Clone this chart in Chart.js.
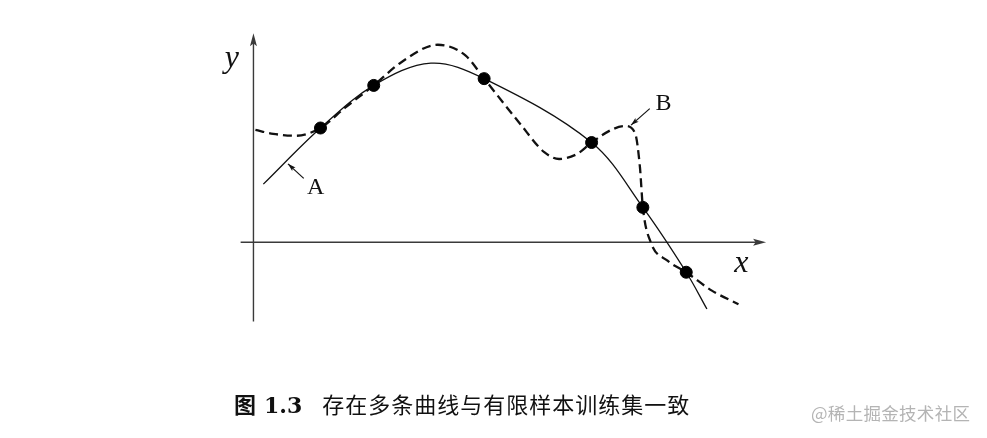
<!DOCTYPE html>
<html>
<head>
<meta charset="utf-8">
<script src="https://cdn.jsdelivr.net/npm/chart.js@4/dist/chart.umd.min.js"></script>
<style>
  html, body { margin: 0; padding: 0; background: #fff; }
  #wrap { position: relative; width: 987px; height: 438px; overflow: hidden; }
  #c { position: absolute; left: 0; top: 0; }
  #caption { position: absolute; left: 234px; top: 387px; font-size: 22px; color: #111; white-space: nowrap; font-family: "Noto Sans CJK SC", serif; }
  #caption .fig { font-weight: bold; }
  #caption .num { font-family: "DejaVu Serif", serif; font-weight: bold; margin-left: 8px; margin-right: 20px; }
  #caption .txt { letter-spacing: 1px; }
  #wm { position: absolute; left: 811px; top: 400px; font-size: 17.5px; letter-spacing: 0.3px; color: #b4b4b4; font-family: "Noto Sans CJK SC", sans-serif; white-space: nowrap; }
</style>
</head>
<body>
<div id="wrap">
  <canvas id="c" width="987" height="438"></canvas>
  <div id="caption"><span class="fig">图</span><span class="num">1.3</span><span class="txt">存在多条曲线与有限样本训练集一致</span></div>
  <div id="wm">@稀土掘金技术社区</div>
</div>
<script>
// ---- data ----
const sampleX = [6.8, 12.2, 23.4, 34.3, 39.5, 43.9];
const sampleY = [11.8, 16.2, 16.9, 10.3, 3.6, -3.1];

const curveAx = [1.0, 6.8, 12.2, 18.0, 23.4, 34.3, 39.5, 43.9, 46.0];
const curveAy = [6.0, 11.8, 16.2, 18.5, 16.9, 10.3, 3.6, -3.1, -6.9];

const curveBx = [0.2, 2.0, 4.3, 6.8, 9.3, 12.2, 15.0, 18.7, 21.5, 23.4, 27.0, 29.5, 31.0, 32.8, 34.3, 36.5, 37.7, 38.7, 39.2, 39.5, 40.3, 42.0, 43.9, 46.5, 49.2];
const curveBy = [11.6, 11.2, 11.0, 11.8, 13.9, 16.2, 18.6, 20.4, 19.3, 16.9, 12.3, 9.3, 8.6, 9.1, 10.3, 11.7, 12.0, 11.3, 7.8, 3.6, 0.0, -1.9, -3.1, -5.0, -6.4];

// axes extent
const xAxisRange = [-1.3, 52.0];
const yAxisRange = [-8.2, 21.6];

// labels
const axisLabels = [{t: 'y', x: -2.2, y: 19.0}, {t: 'x', x: 49.5, y: -2.2}];
const curveLabels = [
  {t: 'A', x: 6.3, y: 5.6, tail: [5.1, 6.6], head: [3.5, 8.1]},
  {t: 'B', x: 41.6, y: 14.3, tail: [40.2, 13.8], head: [38.3, 12.1]}
];

const toPts = (xs, ys) => xs.map((x, i) => ({x, y: ys[i]}));

function arrowHead(ctx, x1, y1, x2, y2, len, wid) {
  const a = Math.atan2(y2 - y1, x2 - x1);
  ctx.beginPath();
  ctx.moveTo(x2, y2);
  ctx.lineTo(x2 - len * Math.cos(a) + wid * Math.sin(a), y2 - len * Math.sin(a) - wid * Math.cos(a));
  ctx.lineTo(x2 - len * Math.cos(a) * 0.8, y2 - len * Math.sin(a) * 0.8);
  ctx.lineTo(x2 - len * Math.cos(a) - wid * Math.sin(a), y2 - len * Math.sin(a) + wid * Math.cos(a));
  ctx.closePath();
  ctx.fill();
}

const decor = {
  id: 'decor',
  beforeDatasetsDraw(chart) {
    const {ctx, scales: {x, y}} = chart;
    ctx.save();
    ctx.strokeStyle = '#3a3a3a';
    ctx.fillStyle = '#3a3a3a';
    ctx.lineWidth = 1.4;
    const y0 = y.getPixelForValue(0), x0 = x.getPixelForValue(0);
    const xa = x.getPixelForValue(xAxisRange[0]), xb = x.getPixelForValue(xAxisRange[1]);
    const ya = y.getPixelForValue(yAxisRange[0]), yb = y.getPixelForValue(yAxisRange[1]);
    ctx.beginPath(); ctx.moveTo(xa, y0); ctx.lineTo(xb - 6, y0); ctx.stroke();
    ctx.beginPath(); ctx.moveTo(x0, ya); ctx.lineTo(x0, yb + 6); ctx.stroke();
    arrowHead(ctx, xa, y0, xb, y0, 13, 3.5);
    arrowHead(ctx, x0, ya, x0, yb, 13, 3.5);
    ctx.restore();
  },
  afterDatasetsDraw(chart) {
    const {ctx, scales: {x, y}} = chart;
    ctx.save();
    ctx.fillStyle = '#111';
    ctx.strokeStyle = '#111';
    ctx.textAlign = 'center';
    ctx.textBaseline = 'middle';
    ctx.font = 'italic 32px "Liberation Serif", serif';
    axisLabels.forEach(l => ctx.fillText(l.t, x.getPixelForValue(l.x), y.getPixelForValue(l.y)));
    ctx.font = '24px "Liberation Serif", serif';
    ctx.lineWidth = 1.2;
    curveLabels.forEach(l => {
      ctx.fillText(l.t, x.getPixelForValue(l.x), y.getPixelForValue(l.y));
      const tx = x.getPixelForValue(l.tail[0]), ty = y.getPixelForValue(l.tail[1]);
      const hx = x.getPixelForValue(l.head[0]), hy = y.getPixelForValue(l.head[1]);
      ctx.beginPath(); ctx.moveTo(tx, ty); ctx.lineTo(hx, hy); ctx.stroke();
      arrowHead(ctx, tx, ty, hx, hy, 8, 2.5);
    });
    ctx.restore();
  }
};

new Chart(document.getElementById('c'), {
  type: 'scatter',
  data: {
    datasets: [
      {
        data: toPts(sampleX, sampleY),
        showLine: false,
        pointRadius: 6,
        pointBackgroundColor: '#000',
        pointBorderColor: '#000',
        order: 0
      },
      {
        data: toPts(curveAx, curveAy),
        showLine: true,
        borderColor: '#111',
        borderWidth: 1.3,
        pointRadius: 0,
        tension: 0.35,
        order: 2
      },
      {
        data: toPts(curveBx, curveBy),
        showLine: true,
        borderColor: '#111',
        borderWidth: 2.3,
        borderDash: [9, 5],
        pointRadius: 0,
        cubicInterpolationMode: 'monotone',
        order: 1
      }
    ]
  },
  options: {
    responsive: false,
    animation: false,
    layout: {padding: 0},
    plugins: {legend: {display: false}, tooltip: {enabled: false}, title: {display: false}},
    scales: {
      x: {type: 'linear', min: -25, max: 73.7, display: false},
      y: {type: 'linear', min: -19.5, max: 24.3, display: false}
    }
  },
  plugins: [decor]
});
</script>
</body>
</html>
